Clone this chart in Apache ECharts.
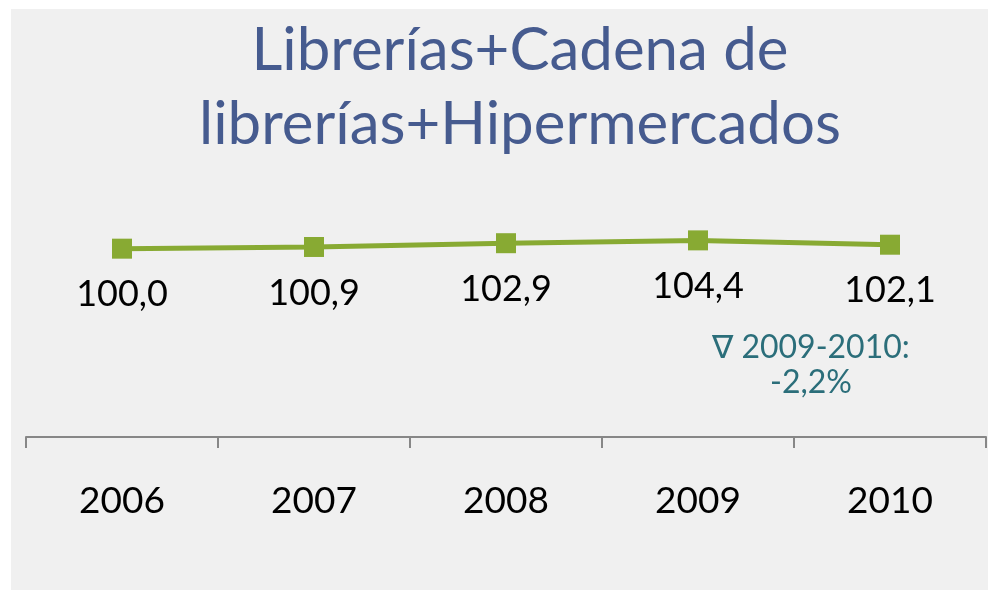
<!DOCTYPE html>
<html>
<head>
<meta charset="utf-8">
<script src="https://cdn.jsdelivr.net/npm/echarts@6/dist/echarts.min.js"></script>
<style>
html,body{margin:0;padding:0;background:#ffffff;}
#chart{width:988px;height:590px;}
</style>
</head>
<body>
<div id="chart"></div>
<script>
const titleLines = ['Librerías+Cadena de', 'librerías+Hipermercados'];
const categories = ['2006', '2007', '2008', '2009', '2010'];
const values = [100.0, 100.9, 102.9, 104.4, 102.1];
const noteLines = ['∇ 2009-2010:', '-2,2%'];

const FONT = 'Lato, "Open Sans", sans-serif';
const chart = echarts.init(document.getElementById('chart'));
chart.setOption({
  backgroundColor: '#ffffff',
  animation: false,
  graphic: [
    { type: 'rect', z: -10, shape: { x: 11, y: 9, width: 1000, height: 600 }, style: { fill: '#f0f0f0' } },
    { type: 'text', x: 520, y: 14, style: { text: titleLines.join('\n'), fill: '#465b8f', font: '400 60px ' + FONT, lineHeight: 74, align: 'center' } },
    { type: 'text', x: 811, y: 330, style: { text: noteLines.join('\n'), fill: '#2b6e7a', font: '400 32px ' + FONT, lineHeight: 35, align: 'center' } }
  ],
  grid: { left: 26, right: 2, top: 211, bottom: 153 },
  xAxis: {
    type: 'category',
    data: categories,
    boundaryGap: true,
    axisLine: { show: true, lineStyle: { color: '#878787', width: 2 } },
    axisTick: { show: true, length: 11, inside: false, lineStyle: { color: '#878787', width: 2 } },
    axisLabel: { color: '#000000', fontSize: 37, fontFamily: FONT, margin: 46 }
  },
  yAxis: {
    type: 'value', min: 0, max: 120, show: false, splitLine: { show: false }
  },
  series: [{
    type: 'line',
    data: values,
    symbol: 'rect',
    symbolSize: 20,
    lineStyle: { color: '#88aa33', width: 5 },
    itemStyle: { color: '#88aa33' },
    label: {
      show: true, position: 'bottom', distance: 18,
      color: '#000000', fontSize: 36, fontFamily: FONT,
      formatter: p => p.value.toFixed(1).replace('.', ',')
    }
  }]
});
</script>
</body>
</html>
